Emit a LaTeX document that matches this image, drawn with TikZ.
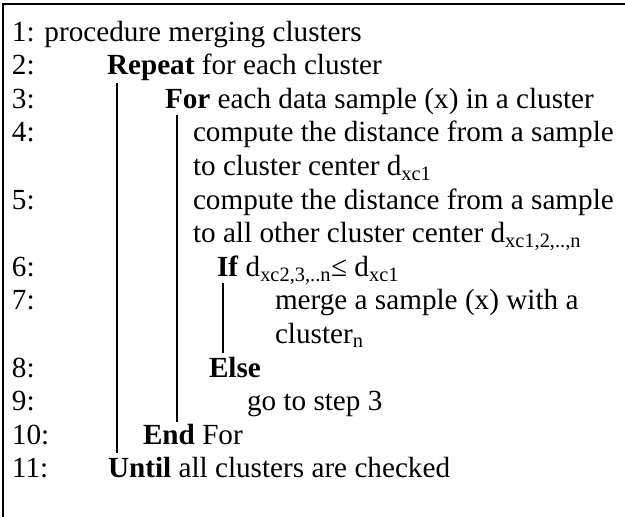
\documentclass[tikz,border=0pt]{standalone}
\usepackage{fontspec}
\setmainfont{Liberation Serif}
\begin{document}
\begin{tikzpicture}[x=1pt,y=-1pt,
  txt/.style={anchor=base west,inner sep=0pt,outer sep=0pt,font=\fontsize{29.2}{33.6}\selectfont},
  bar/.style={line width=1.6pt},
  frame/.style={line width=2pt}]
\useasboundingbox (0,0) rectangle (625,517);
\draw[frame] (3,517) -- (3,4) -- (625,4);
% line numbers
\node[txt] (l1) at (12,41) {1: procedure merging clusters};
\node[txt] (n2) at (12,74.6) {2:};
\node[txt] (n3) at (12,108.2) {3:};
\node[txt] (n4) at (12,141.8) {4:};
\node[txt] (n5) at (12,209) {5:};
\node[txt] (n6) at (12,276.2) {6:};
\node[txt] (n7) at (12,309.8) {7:};
\node[txt] (n8) at (12,377) {8:};
\node[txt] (n9) at (12,410.6) {9:};
\node[txt] (n10) at (12,444.2) {10:};
\node[txt] (n11) at (12,477.8) {11:};
% statements
\node[txt] (t2) at (107,74.6) {\textbf{Repeat} for each cluster};
\node[txt] (t3) at (165,108.2) {\textbf{For} each data sample (x) in a cluster};
\node[txt] (t4a) at (193,141.8) {compute the distance from a sample};
\node[txt] (t4b) at (193,175.4) {to cluster center d\textsubscript{xc1}};
\node[txt] (t5a) at (193,209) {compute the distance from a sample};
\node[txt] (t5b) at (193,242.6) {to all other cluster center d\textsubscript{xc1,2,..,n}};
\node[txt] (t6) at (217,276.2) {\textbf{If} d\textsubscript{xc2,3,..n}≤ d\textsubscript{xc1}};
\node[txt] (t7a) at (275,309.8) {merge a sample (x) with a};
\node[txt] (t7b) at (275,343.4) {cluster\textsubscript{n}};
\node[txt] (t8) at (209,377) {\textbf{Else}};
\node[txt] (t9) at (247,410.6) {go to step 3};
\node[txt] (t10) at (143,444.2) {\textbf{End} For};
\node[txt] (t11) at (108,477.8) {\textbf{Until} all clusters are checked};
% block bars
\coordinate (b1s) at (117,83);
\coordinate (b1e) at (117,453);
\coordinate (b2s) at (177,115);
\coordinate (b2e) at (177,422);
\coordinate (b3s) at (223,283);
\coordinate (b3e) at (223,353);
\draw[bar] (b1s) -- (b1e);
\draw[bar] (b2s) -- (b2e);
\draw[bar] (b3s) -- (b3e);
\end{tikzpicture}
\end{document}
